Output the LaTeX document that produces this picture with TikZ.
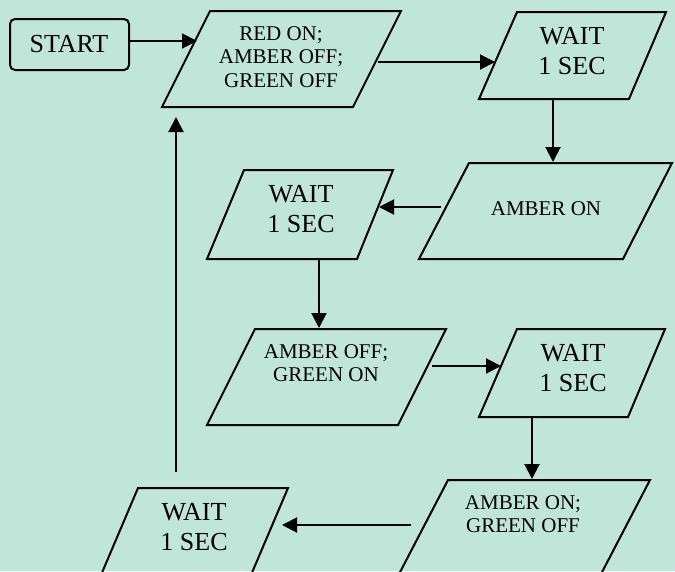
\documentclass[tikz,border=0pt]{standalone}
\usepackage{fontspec}
\setmainfont{Liberation Serif}
\usetikzlibrary{arrows.meta}
\definecolor{bg}{RGB}{192,230,218}
\tikzset{
  shapeline/.style={draw=black, line width=2pt, line join=miter},
  flow/.style={draw=black, line width=2pt, -{Triangle[length=15pt,width=15pt]}},
  smalltext/.style={inner sep=0pt, align=center, font=\fontsize{21}{23.5}\selectfont},
  waittext/.style={inner sep=0pt, align=center, font=\fontsize{26}{30}\selectfont},
  starttext/.style={inner sep=0pt, font=\fontsize{26}{30}\selectfont}
}
\begin{document}
\begin{tikzpicture}[x=1pt,y=-1pt]
\fill[bg] (0,0) rectangle (675,571);
\useasboundingbox (0,0) rectangle (675,571);
\begin{scope}
\clip (0,0) rectangle (675,571);
% START box
\draw[shapeline, rounded corners=5pt] (10,19) rectangle (129,70);
\node[starttext] (start) at (69,44.5) {START};
% parallelograms
\draw[shapeline] (210,11) -- (401,11) -- (353,107) -- (162,107) -- cycle;
\node[smalltext] (p1) at (281,57) {RED ON;\\AMBER OFF;\\GREEN OFF};
\draw[shapeline] (517,12) -- (666,12) -- (629,99) -- (479,99) -- cycle;
\node[waittext] (p2) at (572,51) {WAIT\\1 SEC};
\draw[shapeline] (469,163) -- (672,163) -- (623,259) -- (419,259) -- cycle;
\node[smalltext] (p3) at (546,209) {AMBER ON};
\draw[shapeline] (244,170) -- (393,170) -- (357,259) -- (207,259) -- cycle;
\node[waittext] (p4) at (301,209) {WAIT\\1 SEC};
\draw[shapeline] (255,329) -- (446,329) -- (398,425) -- (207,425) -- cycle;
\node[smalltext] (p5) at (326,363) {AMBER OFF;\\GREEN ON};
\draw[shapeline] (517,329) -- (665,329) -- (628,417) -- (479,417) -- cycle;
\node[waittext] (p6) at (573,368) {WAIT\\1 SEC};
\draw[shapeline] (448,480) -- (650,480) -- (600,576) -- (398,576) -- cycle;
\node[smalltext] (p7) at (523,514) {AMBER ON;\\GREEN OFF};
\draw[shapeline] (138,488) -- (288,488) -- (251,575) -- (101,575) -- cycle;
\node[waittext] (p8) at (194,527.5) {WAIT\\1 SEC};
% connector end points
\coordinate (a0s) at (129,41);  \coordinate (a0e) at (197,41);
\coordinate (a1s) at (378,62);  \coordinate (a1e) at (495,62);
\coordinate (a2s) at (553,99);  \coordinate (a2e) at (553,162);
\coordinate (a3s) at (441,207); \coordinate (a3e) at (379,207);
\coordinate (a4s) at (319,259); \coordinate (a4e) at (319,328);
\coordinate (a5s) at (432,366); \coordinate (a5e) at (501,366);
\coordinate (a6s) at (532,417); \coordinate (a6e) at (532,479);
\coordinate (a7s) at (411,525); \coordinate (a7e) at (282,525);
\coordinate (a8s) at (176,472); \coordinate (a8e) at (176,117);
\draw[flow] (a0s) -- (a0e);
\draw[flow] (a1s) -- (a1e);
\draw[flow] (a2s) -- (a2e);
\draw[flow] (a3s) -- (a3e);
\draw[flow] (a4s) -- (a4e);
\draw[flow] (a5s) -- (a5e);
\draw[flow] (a6s) -- (a6e);
\draw[flow] (a7s) -- (a7e);
\draw[flow] (a8s) -- (a8e);
\end{scope}
\end{tikzpicture}
\end{document}
